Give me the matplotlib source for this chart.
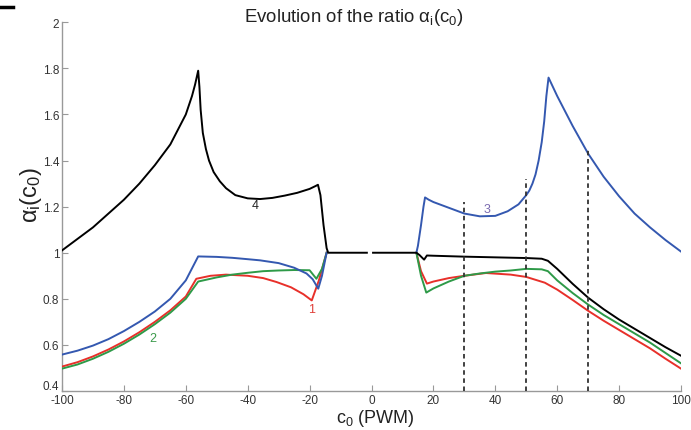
import numpy as np
import matplotlib
matplotlib.use("Agg")
import matplotlib.pyplot as plt
import matplotlib.transforms as mtransforms

plt.rcParams['font.family'] = ['Liberation Sans', 'DejaVu Sans']
plt.rcParams['mathtext.fontset'] = 'custom'
plt.rcParams['mathtext.rm'] = 'Liberation Sans'
plt.rcParams['mathtext.it'] = 'Liberation Sans'
plt.rcParams['axes.unicode_minus'] = False

nan = np.nan

# ---- data ----
black_x = [-100, -95, -90, -85, -80, -75, -70, -65, -60, -58, -57, -56, -55.6, -55.2, -54.5, -53.5, -52.5, -51, -49,
           -47, -44, -40, -36, -32, -28, -24, -20, -18, -17.3, -16.5, -15.5, -14.5, -14, -1.5,
           nan, 0.5, 14.5, 15.5, 17, 17.9, 20, 30, 40, 50, 55, 57, 60, 65, 70, 75, 80, 85, 90, 95, 100]
black_y = [1.01, 1.06, 1.11, 1.17, 1.23, 1.30, 1.38, 1.47, 1.60, 1.68, 1.73, 1.79, 1.72, 1.62, 1.52, 1.45, 1.40, 1.35, 1.31,
           1.28, 1.25, 1.236, 1.233, 1.238, 1.248, 1.26, 1.277, 1.29, 1.295, 1.25, 1.12, 1.02, 1.0, 1.0,
           nan, 1.0, 1.0, 0.99, 0.97, 0.988, 0.987, 0.983, 0.98, 0.977, 0.974, 0.965, 0.93, 0.865, 0.805, 0.755, 0.71, 0.67, 0.63, 0.59, 0.553]

blue_x = [-100, -95, -90, -85, -80, -75, -70, -65, -60, -56, -50, -45, -40, -36, -30, -25, -21, -19, -17.2, -16, -14.5,
          nan, 14.5, 15, 16, 16.8, 17.3, 18.5, 20, 25, 30, 35, 40, 44, 47.5, 50, 51, 52, 53, 54, 55, 55.8, 56.5, 57.2,
          60, 65, 70, 75, 80, 85, 90, 95, 100]
blue_y = [0.558, 0.575, 0.597, 0.625, 0.66, 0.70, 0.745, 0.80, 0.88, 0.984, 0.982, 0.978, 0.972, 0.967, 0.955, 0.935, 0.91, 0.885, 0.844, 0.90, 1.0,
          nan, 1.0, 1.03, 1.12, 1.20, 1.24, 1.23, 1.22, 1.195, 1.17, 1.158, 1.16, 1.18, 1.21, 1.25, 1.27, 1.30, 1.34, 1.40, 1.48, 1.57, 1.68, 1.76,
          1.68, 1.55, 1.43, 1.33, 1.245, 1.17, 1.11, 1.055, 1.005]

red_x = [-100, -95, -90, -85, -80, -75, -70, -65, -60, -56.6, -52, -47, -40, -35, -30.7, -26, -22, -19.3, -17, -14.5,
         nan, 14.5, 16, 17.9, 20, 25, 30, 37, 45, 50, 56, 60, 65, 70, 75, 80, 85, 90, 95, 100]
red_y = [0.506, 0.525, 0.55, 0.58, 0.615, 0.655, 0.70, 0.75, 0.81, 0.887, 0.90, 0.905, 0.90, 0.89, 0.873, 0.85, 0.82, 0.793, 0.88, 1.0,
         nan, 1.0, 0.92, 0.866, 0.875, 0.89, 0.90, 0.912, 0.905, 0.895, 0.87, 0.84, 0.795, 0.748, 0.705, 0.665, 0.625, 0.585, 0.54, 0.497]

green_x = [-100, -95, -90, -85, -80, -75, -70, -65, -60, -56, -50, -45, -40, -35, -30, -25, -20, -17.8, -16, -14.5,
           nan, 14.5, 16, 17.7, 20, 25, 30, 35, 40, 45, 50, 55, 57, 60, 65, 70, 75, 80, 85, 90, 95, 100]
green_y = [0.497, 0.515, 0.54, 0.57, 0.605, 0.645, 0.69, 0.74, 0.80, 0.875, 0.893, 0.905, 0.913, 0.92, 0.923, 0.925, 0.924, 0.887, 0.93, 1.0,
           nan, 1.0, 0.90, 0.827, 0.845, 0.875, 0.90, 0.91, 0.918, 0.923, 0.93, 0.928, 0.92, 0.88, 0.825, 0.775, 0.73, 0.69, 0.65, 0.61, 0.565, 0.52]

dash_x = [30, 50, 70]
dash_top = [1.22, 1.32, 1.455]

labels = ['1', '2', '3', '4']
label_x = [-19.4, -70.8, 37.3, -37.7]
label_y = [0.757, 0.63, 1.19, 1.205]
label_colors = ['#e0403a', '#3a9a4a', '#7a6ab0', '#222222']

xticks = [-100, -80, -60, -40, -20, 0, 20, 40, 60, 80, 100]
yticks = [0.4, 0.6, 0.8, 1.0, 1.2, 1.4, 1.6, 1.8, 2.0]
ytick_labels = ['0.4', '0.6', '0.8', '1', '1.2', '1.4', '1.6', '1.8', '2']

# ---- figure ----
fig = plt.figure(figsize=(6.91, 4.31), dpi=100)
ax = fig.add_axes([62/691, 1-392/431, (681-62)/691, (392-23.3)/431])

ax.plot(red_x, red_y, color='#e8302a', lw=1.4, zorder=3)
ax.plot(green_x, green_y, color='#2e9a48', lw=1.4, zorder=3)
ax.plot(blue_x, blue_y, color='#3458b0', lw=1.4, zorder=3)
ax.plot(black_x, black_y, color='black', lw=1.4, zorder=4)

for xv, top in zip(dash_x, dash_top):
    ax.plot([xv, xv], [0.4, top], color='#333333', lw=1.3, ls=(0, (2.5, 2)), zorder=5)

for t, xv, yv, c in zip(labels, label_x, label_y, label_colors):
    ax.text(xv, yv, t, color=c, fontsize=9, ha='center', va='center')

ax.set_xlim(-100, 100)
ax.set_ylim(0.4, 2.0)
ax.set_xticks(xticks)
ax.set_yticks(yticks)
ax.set_yticklabels(ytick_labels)
for s in ['top', 'right']:
    ax.spines[s].set_visible(False)
for s in ['left', 'bottom']:
    ax.spines[s].set_color('#999999')
    ax.spines[s].set_linewidth(1.0)
ax.tick_params(direction='in', length=4, color='#999999', labelsize=8.5, labelcolor='#333333')
ax.tick_params(axis='x', pad=2)
ax.tick_params(axis='y', pad=2)

# raise the lowest y tick label a little (as in the reference)
lab0 = ax.get_yticklabels()[0]
lab0.set_transform(lab0.get_transform() + mtransforms.ScaledTranslation(0, 6/100, fig.dpi_scale_trans))

fig.text(354/691, 1-18/431, r'Evolution of the ratio $\alpha_\mathregular{i}(\mathregular{c}_0)$',
         fontsize=13.4, color='#222222', ha='center', va='center')
fig.text(31/691, 1-195/431, r'$\alpha_\mathregular{i}(\mathregular{c}_0)$', fontsize=17, color='#222222',
         rotation=90, ha='center', va='center')
fig.text(375/691, 1-419/431, r'c$_\mathregular{0}$ (PWM)', fontsize=13, color='#222222', ha='center', va='center')

# small dark mark at top-left corner of the original image
fig.add_artist(plt.Line2D([0, 13/691], [1-8/431, 1-8/431], color='black', lw=2.5))

fig.savefig('out.png', dpi=100)
